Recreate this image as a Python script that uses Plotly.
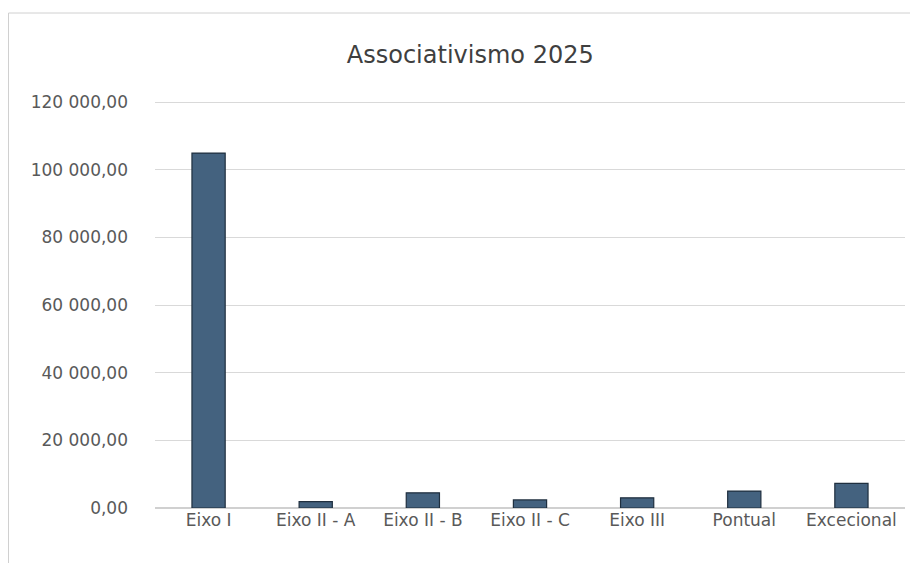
import plotly.graph_objects as go

categories = ["Eixo I", "Eixo II - A", "Eixo II - B", "Eixo II - C", "Eixo III", "Pontual", "Excecional"]
values = [104900, 1900, 4500, 2400, 3000, 5000, 7300]
tick_values = [0, 20000, 40000, 60000, 80000, 100000, 120000]

W, H = 910, 555
L, R, T, B = 147, 13, 93, 55
FONT = "DejaVu Sans, Liberation Sans, Arial"

fig = go.Figure(go.Bar(
    x=categories, y=values,
    marker=dict(color="#44627F", line=dict(color="#1F2F3F", width=1.2)),
    width=0.31,
))

fig.update_layout(
    width=W, height=H,
    paper_bgcolor="white", plot_bgcolor="white",
    separators=", ",
    margin=dict(l=L, r=R, t=T, b=B),
    title=dict(text="Associativismo 2025", x=0.508, xanchor="center", y=1 - 47 / H, yanchor="middle",
               font=dict(family=FONT, size=24, color="#3F3F3F")),
    font=dict(family=FONT, size=17, color="#595959"),
    showlegend=False,
    xaxis=dict(showline=False, showgrid=False, ticks="", tickfont=dict(size=17, color="#595959")),
    yaxis=dict(range=[0, 120300], tickvals=tick_values, tickformat=",.2f",
               showgrid=True, gridcolor="#D9D9D9", gridwidth=1, zeroline=True, zerolinecolor="#D0D0D0",
               showline=False, ticks="", ticklabelstandoff=26,
               tickfont=dict(size=17, color="#595959")),
)

pw = W - L - R
ph = H - T - B
x_left = (0.5 - L) / pw
x_right = (W - L) / pw
y_top = (H - B - 5) / ph
y_bot = -B / ph
fig.add_shape(type="line", xref="paper", yref="paper", x0=x_left, x1=x_right, y0=y_top, y1=y_top,
              line=dict(color="#D0D0D0", width=1))
fig.add_shape(type="line", xref="paper", yref="paper", x0=x_left, x1=x_left, y0=y_top, y1=y_bot,
              line=dict(color="#D0D0D0", width=1))
fig.write_html("out.html")
